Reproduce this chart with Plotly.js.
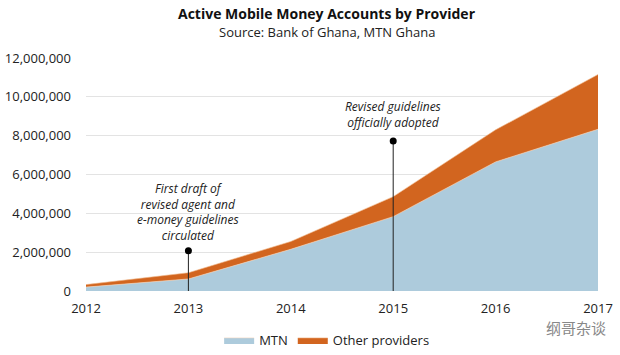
<!DOCTYPE html>
<html>
<head>
<meta charset="utf-8">
<script src="https://cdn.plot.ly/plotly-3.0.1.min.js"></script>
<style>html,body{margin:0;padding:0;background:#fff;}#chart{width:620px;height:355px;}</style>
</head>
<body>
<div id="chart"></div>
<script>
const years = [2012, 2013, 2014, 2015, 2016, 2017];
const mtn = [200000, 620000, 2150000, 3830000, 6650000, 8330000];
const otherProviders = [130000, 320000, 400000, 1030000, 1650000, 2820000];
const eventYears = [2013, 2015];
const eventMarkers = [2070000, 7730000];
const eventLabels = [
  "First draft of<br>revised agent and<br>e-money guidelines<br>circulated",
  "Revised guidelines<br>officially adopted"
];
const eventLabelY = [2300000, 8150000];
const yTicks = [0, 2000000, 4000000, 6000000, 8000000, 10000000, 12000000];

const font = "Open Sans, Liberation Sans, sans-serif";

const traces = [
  {x: years, y: mtn, name: "MTN", type: "scatter", mode: "lines", stackgroup: "one",
   line: {width: 0.6, color: "#f2d9c2"}, fillcolor: "#adcbdc", hoverinfo: "skip"},
  {x: years, y: otherProviders, name: "Other providers", type: "scatter", mode: "lines", stackgroup: "one",
   line: {width: 0.6, color: "#f0b98c"}, fillcolor: "#d2651f", hoverinfo: "skip"}
];
eventYears.forEach((yr, i) => {
  traces.push({x: [yr, yr], y: [0, eventMarkers[i]], type: "scatter", mode: "lines",
    line: {color: "#222", width: 1}, showlegend: false, hoverinfo: "skip"});
  traces.push({x: [yr], y: [eventMarkers[i]], type: "scatter", mode: "markers",
    marker: {color: "#000", size: 7}, showlegend: false, hoverinfo: "skip"});
});

const annotations = eventYears.map((yr, i) => ({
  x: yr, y: eventLabelY[i], xref: "x", yref: "y", text: "<i>" + eventLabels[i] + "</i>",
  showarrow: false, yanchor: "bottom", align: "center",
  font: {family: font, size: 12, color: "#222"}
}));
annotations.push({
  text: "<b>Active Mobile Money Accounts by Provider</b>", xref: "paper", yref: "paper",
  x: 0.47, y: 1, yanchor: "middle", yshift: 45, showarrow: false, font: {family: font, size: 14, color: "#111"}
});
annotations.push({
  text: "Source: Bank of Ghana, MTN Ghana", xref: "paper", yref: "paper",
  x: 0.47, y: 1, yanchor: "middle", yshift: 26, showarrow: false, font: {family: font, size: 13, color: "#222"}
});
annotations.push({
  text: "纲哥杂谈", xref: "paper", yref: "paper", x: 1.02, y: 0, yanchor: "middle", yshift: -36,
  xanchor: "right", showarrow: false,
  font: {family: "Noto Sans CJK SC", size: 15, color: "#888"}
});

const layout = {
  width: 620, height: 355,
  margin: {l: 86, r: 22, t: 58, b: 64, autoexpand: false},
  paper_bgcolor: "#fff", plot_bgcolor: "#fff",
  showlegend: true,
  legend: {orientation: "h", x: 0.47, xanchor: "center", y: -0.21, yanchor: "middle",
    font: {family: font, size: 13, color: "#222"}, traceorder: "normal"},
  xaxis: {range: [2012, 2017], tickvals: years, ticktext: years.map(String), showgrid: false,
    zeroline: false, showline: false, ticks: "", ticklabelstandoff: 8,
    tickfont: {family: font, size: 13, color: "#222"}},
  yaxis: {range: [0, 12000000], tickvals: yTicks, tickformat: ",d", showgrid: true,
    gridcolor: "#e3e3e3", gridwidth: 1, zeroline: false, showline: false, ticks: "",
    ticklabelstandoff: 14, tickfont: {family: font, size: 13, color: "#222"}},
  annotations: annotations
};

Plotly.newPlot("chart", traces, layout, {staticPlot: true, displayModeBar: false});
</script>
</body>
</html>
